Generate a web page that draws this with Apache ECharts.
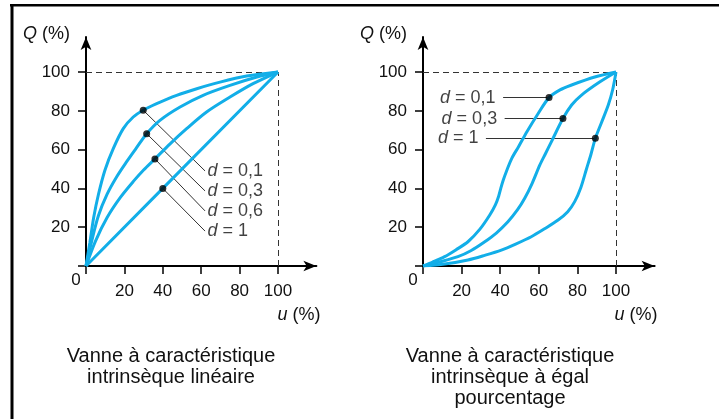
<!DOCTYPE html>
<html>
<head>
<meta charset="utf-8">
<script src="https://cdn.jsdelivr.net/npm/echarts@6/dist/echarts.min.js"></script>
<style>
  html, body { margin: 0; padding: 0; background: #fff; }
  #chart { width: 719px; height: 419px; }
</style>
</head>
<body>
<div id="chart"></div>
<script>
// tick labels (u and Q in %)
const tickLabels = [20, 40, 60, 80, 100];
const tickMarks = [0, 20, 40, 60, 80, 100];

// vanne linéaire : Q(u) pour chaque d
const linD01 = [[0,0],[2,12],[4,25],[6.5,37],[9.9,49.5],[14.2,60.5],[19.4,70.8],[24.6,76.8],[29.8,80.3],[36.8,83.7],[47.2,88],[57.7,91.4],[69.8,94.8],[83.7,97.9],[100,100]];
const linD03 = [[0,0],[3,13],[6.5,26],[11,37],[16,46],[21,53.5],[26,60.5],[31.6,68.2],[38.5,75.1],[49,82],[61,88],[75,93.1],[89,97.4],[100,100]];
const linD06 = [[0,0],[5,13],[11,25],[18,35.5],[25,44],[30,49.5],[35.9,55.2],[43.8,63],[52.4,70.8],[62.8,79.4],[75,87.1],[87,94],[100,100]];
const linD1 = [[0,0],[40,40],[100,100]];
const linDots = [[29.8,80.3],[31.6,68.2],[35.9,55.2],[40,40]];
const linLabels = ['0,1', '0,3', '0,6', '1'];
const linLabelAt = [[62,49],[62,38.7],[62,28.4],[62,18]];

// vanne à égal pourcentage
const eqD01 = [[0,0],[5,2],[11.2,4.8],[17,8.3],[23.3,12.5],[29.5,19],[34.6,26.3],[37.5,31.5],[39.2,36],[40.3,40],[41.6,44.3],[43.5,49.5],[46,55.5],[49.5,61.5],[54,69.5],[59.6,78.5],[65.3,86.8],[71,90.8],[77,93.3],[89,97.4],[100,100]];
const eqD03 = [[0,0],[9,2.2],[18.1,4.8],[25,8],[32,12.5],[38,17],[44,22.8],[49,29],[52.7,34.9],[56.5,42.5],[60.5,52],[63.5,58],[66.5,64],[72.5,76],[77,83],[82,88],[91.5,94.8],[100,100]];
const eqD1 = [[0,0],[11.2,1],[23.3,3.1],[32,5.5],[40.6,8.2],[48,11.3],[56.1,15.1],[63,19.2],[70,23.7],[75,28],[78.6,33.2],[81.8,40.5],[84.7,50],[87,57.5],[89.3,65.8],[92.5,74],[96,83],[98.3,91],[100,100]];
const eqDots = [[65.3,86.8],[72.5,76],[89.3,65.8]];
const eqLabels = ['0,1', '0,3', '1'];
const eqLabelAt = [[41.5,86.8],[42.3,76],[32.6,65.8]];

const FONT = '"Liberation Sans", Arial, sans-serif';
const BLUE = '#12aee8';

const chart = echarts.init(document.getElementById('chart'), null, { renderer: 'canvas' });

function xAxisFor(i, gap) {
  return {
    type: 'value', gridIndex: i, min: 0, max: 120,
    name: '{i|u} (%)', nameLocation: 'end', nameGap: gap,
    nameTextStyle: {
      align: 'right', verticalAlign: 'top', padding: [40, 0, 0, 0],
      color: '#111', fontFamily: FONT, fontSize: 18,
      rich: { i: { fontStyle: 'italic', fontFamily: FONT, fontSize: 18, color: '#111' } }
    },
    axisLine: { show: true, onZero: false, symbol: ['none', 'arrow'], symbolSize: [8, 13],
      lineStyle: { color: '#000', width: 2 } },
    axisTick: { show: true, customValues: tickMarks, length: 8, lineStyle: { color: '#000', width: 1.5 } },
    axisLabel: { show: true, customValues: tickLabels, margin: 17, fontSize: 17, fontFamily: FONT, color: '#111' },
    splitLine: { show: false }
  };
}

function yAxisFor(i) {
  return {
    type: 'value', gridIndex: i, min: 0, max: 118,
    name: '{i|Q} (%)', nameLocation: 'end', nameGap: 3,
    nameTextStyle: {
      align: 'right', verticalAlign: 'middle', padding: [0, 16, 0, 0],
      color: '#111', fontFamily: FONT, fontSize: 18,
      rich: { i: { fontStyle: 'italic', fontFamily: FONT, fontSize: 18, color: '#111' } }
    },
    axisLine: { show: true, onZero: false, symbol: ['none', 'arrow'], symbolSize: [8, 13],
      lineStyle: { color: '#000', width: 2 } },
    axisTick: { show: true, customValues: tickMarks, length: 8, lineStyle: { color: '#000', width: 1.5 } },
    axisLabel: { show: true, customValues: tickLabels, margin: 16, fontSize: 17, fontFamily: FONT, color: '#111' },
    splitLine: { show: false }
  };
}

function curve(i, data, smooth) {
  return {
    type: 'line', xAxisIndex: i, yAxisIndex: i, data: data,
    showSymbol: false, smooth: smooth, silent: true,
    lineStyle: { color: BLUE, width: 3 }
  };
}

const guideStyle = { color: '#333', width: 1, type: [6, 4] };
const leaderStyle = { color: '#333', width: 1, type: 'solid' };

function dots(i, pts, ends) {
  const lines = pts.map((p, k) => [{ coord: p, lineStyle: leaderStyle }, { coord: ends[k] }]);
  lines.push([{ coord: [0, 100], lineStyle: guideStyle }, { coord: [100, 100] }]);
  lines.push([{ coord: [100, 0], lineStyle: guideStyle }, { coord: [100, 100] }]);
  return {
    type: 'scatter', xAxisIndex: i, yAxisIndex: i, data: pts, z: 5,
    symbol: 'circle', symbolSize: 7, itemStyle: { color: '#000' }, silent: true,
    markLine: { silent: true, symbol: 'none', label: { show: false }, data: lines, z: 1 }
  };
}

function labels(i, at, names, pos, dist) {
  return {
    type: 'scatter', xAxisIndex: i, yAxisIndex: i, silent: true,
    data: at.map((p, k) => ({ value: p, name: names[k] })),
    symbolSize: 1, itemStyle: { color: 'rgba(0,0,0,0)' },
    label: {
      show: true, position: pos, distance: dist,
      formatter: p => '{i|d} = ' + p.name,
      fontSize: 18, fontFamily: FONT, color: '#111',
      rich: { i: { fontStyle: 'italic', fontSize: 18, fontFamily: FONT, color: '#111' } }
    }
  };
}

function caption(x, text) {
  return {
    type: 'text', x: x, y: 346, silent: true,
    style: { text: text, align: 'center', verticalAlign: 'top', fill: '#111',
      font: '20px ' + FONT, lineHeight: 21 }
  };
}

chart.setOption({
  animation: false,
  backgroundColor: '#fff',
  grid: [
    { left: 86, top: 37.1, width: 230.4, height: 228.9, containLabel: false, outerBoundsMode: 'none' },
    { left: 423, top: 37.1, width: 231.6, height: 228.9, containLabel: false, outerBoundsMode: 'none' }
  ],
  xAxis: [xAxisFor(0, 4), xAxisFor(1, 3)],
  yAxis: [yAxisFor(0), yAxisFor(1)],
  series: [
    curve(0, linD01, 0.3), curve(0, linD03, 0.3), curve(0, linD06, 0.3), curve(0, linD1, false),
    dots(0, linDots, linLabelAt),
    labels(0, linLabelAt, linLabels, 'right', 2),
    curve(1, eqD01, 0.3), curve(1, eqD03, 0.3), curve(1, eqD1, 0.3),
    dots(1, eqDots, eqLabelAt),
    labels(1, eqLabelAt, eqLabels, 'left', 7)
  ],
  graphic: [
    { type: 'rect', silent: true, shape: { x: 10, y: 4, width: 709, height: 2.5 }, style: { fill: '#000' } },
    { type: 'rect', silent: true, shape: { x: 10.5, y: 4, width: 3, height: 415 }, style: { fill: '#000' } },
    { type: 'text', silent: true, x: 76, y: 280, style: { text: '0', align: 'center', verticalAlign: 'middle', fill: '#111', font: '17px ' + FONT } },
    { type: 'text', silent: true, x: 413, y: 280, style: { text: '0', align: 'center', verticalAlign: 'middle', fill: '#111', font: '17px ' + FONT } },
    caption(171, 'Vanne à caractéristique\nintrinsèque linéaire'),
    caption(510, 'Vanne à caractéristique\nintrinsèque à égal\npourcentage')
  ]
});
</script>
</body>
</html>
